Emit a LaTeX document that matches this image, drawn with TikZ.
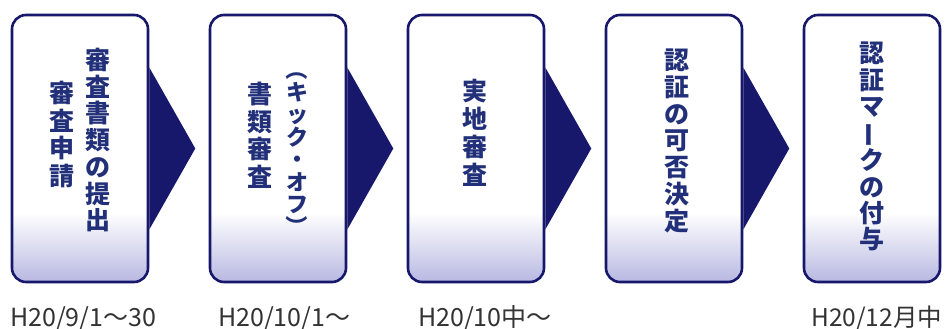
\documentclass[tikz,border=0pt]{standalone}
\usepackage{fontspec}
\usepackage{graphicx}
\usetikzlibrary{calc}
\newfontfamily\jp{Noto Sans CJK JP}
\definecolor{navy}{HTML}{17176C}
\definecolor{ink}{HTML}{22307A}
\definecolor{lav}{HTML}{B8B8E2}
\definecolor{datec}{HTML}{333333}
\pgfdeclareverticalshading{boxshade}{100bp}{color(0bp)=(lav); color(25bp)=(lav); color(38bp)=(white); color(100bp)=(white)}
\newcommand\rv[2]{\rotatebox[origin=c]{#1}{#2}}
\begin{document}
\begin{tikzpicture}[x=1pt,y=-1pt,
  box/.style={draw=navy, line width=2.6pt, rounded corners=14pt, shading=boxshade,
    minimum width=136pt, minimum height=267pt, inner sep=0pt},
  arr/.style={fill=navy},
  vt/.style={text=ink, font=\jp\bfseries\fontsize{25}{26.7}\selectfont, align=center, anchor=north, inner sep=0pt},
  datel/.style={text=datec, font=\jp\fontsize{25}{25}\selectfont, anchor=base west, inner sep=0pt}]
\useasboundingbox (0,0) rectangle (946,329);
\foreach \i/\x in {1/80,2/278,3/476,4/674,5/872}{
  \node[box] (b\i) at (\x,148.5) {};
}
\foreach \i in {1,2,3,4}{
  \fill[arr] ($(b\i.east)+(0,-81)$) -- ($(b\i.east)+(46,0)$) -- ($(b\i.east)+(0,81)$) -- cycle;
}
% box 1
\node[vt] (t1a) at (98,48) {審\\査\\書\\類\\の\\提\\出};
\node[vt, font=\jp\bfseries\fontsize{25}{27.5}\selectfont] (t1b) at (62,81) {審\\査\\申\\請};
% box 2
\node[vt, font=\jp\bfseries\fontsize{22}{22.5}\selectfont] (t2a) at (297,58) {\rv{-90}{（}\\キ\\ッ\\ク\\・\\オ\\フ\\\rv{-90}{）}};
\node[vt, font=\jp\bfseries\fontsize{25}{27.5}\selectfont] (t2b) at (260,82) {書\\類\\審\\査};
% box 3
\node[vt, font=\jp\bfseries\fontsize{25}{28}\selectfont] (t3) at (475,79) {実\\地\\審\\査};
% box 4
\node[vt] (t4) at (677,49) {認\\証\\の\\可\\否\\決\\定};
% box 5
\node[vt, font=\jp\bfseries\fontsize{25}{26.2}\selectfont] (t5) at (872,42) {認\\証\\マ\\\rv{90}{ー}\\ク\\の\\付\\与};
% dates
\node[datel] (d1) at (10,326) {H20/9/1～30};
\node[datel] (d2) at (218,326) {H20/10/1～};
\node[datel] (d3) at (418,326) {H20/10中～};
\node[datel, font=\jp\fontsize{24.5}{24.5}\selectfont] (d5) at (811,326) {H20/12月中};
\end{tikzpicture}
\end{document}
